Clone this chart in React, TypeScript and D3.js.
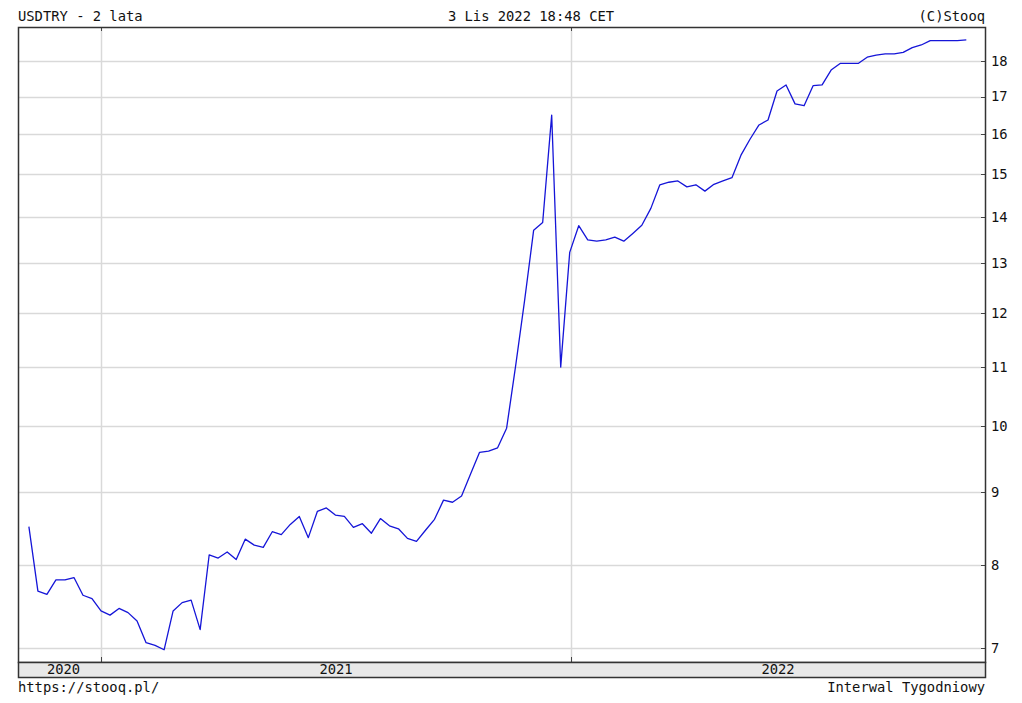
import React from "react";
import * as d3 from "d3";

const TITLE_LEFT = "USDTRY - 2 lata";
const TITLE_CENTER = "3 Lis 2022 18:48 CET";
const TITLE_RIGHT = "(C)Stooq";
const FOOT_LEFT = "https://stooq.pl/";
const FOOT_RIGHT = "Interwal Tygodniowy";

const FIRST_WEEK = "2020-11-06";
const closes: number[] = [
  8.51, 7.67, 7.63, 7.81, 7.81, 7.84, 7.62, 7.58, 7.43, 7.38,
  7.46, 7.41, 7.31, 7.06, 7.03, 6.98, 7.43, 7.53, 7.56, 7.21,
  8.13, 8.09, 8.17, 8.07, 8.34, 8.26, 8.23, 8.44, 8.40, 8.54,
  8.65, 8.36, 8.72, 8.77, 8.67, 8.65, 8.50, 8.55, 8.42, 8.62,
  8.52, 8.48, 8.35, 8.31, 8.46, 8.61, 8.88, 8.85, 8.94, 9.26,
  9.59, 9.61, 9.66, 9.97, 11.02, 12.25, 13.71, 13.88, 16.50, 11.00,
  13.23, 13.81, 13.50, 13.47, 13.50, 13.56, 13.47, 13.64, 13.82, 14.20,
  14.75, 14.81, 14.84, 14.70, 14.75, 14.60, 14.76, 14.84, 14.92, 15.47,
  15.87, 16.24, 16.37, 17.15, 17.32, 16.80, 16.75, 17.30, 17.32, 17.74,
  17.93, 17.93, 17.93, 18.11, 18.17, 18.21, 18.21, 18.25, 18.39, 18.47,
  18.60, 18.60, 18.60, 18.60, 18.62,
];
const yTicks: number[] = [7, 8, 9, 10, 11, 12, 13, 14, 15, 16, 17, 18];
const yearBounds: string[] = ["2021-01-01", "2022-01-01"];
const yearLabels: string[] = ["2020", "2021", "2022"];

const W = 1022;
const H = 703;
const L = 18;
const R = 985;
const T = 27;
const B = 662;
const BAND = 15;
const FONT = "'DejaVu Sans Mono', 'Liberation Mono', monospace";
const FS = 13.8;

export default function App() {
  const start = new Date(FIRST_WEEK + "T00:00:00Z");
  const dates = closes.map((_, i) => d3.utcDay.offset(start, 7 * i));
  const bounds = yearBounds.map((s) => new Date(s + "T00:00:00Z"));

  const x = d3.scaleUtc().domain(bounds).range([101, 571]);
  const y = d3.scaleLog().domain([7, 18]).range([648, 61]);

  const line = d3
    .line<number>()
    .x((_, i) => x(dates[i]))
    .y((d) => y(d));

  const bx = bounds.map((b) => x(b));
  const edges = [L, ...bx, R];
  const labelX = yearLabels.map((_, i) =>
    i === 0 ? (edges[0] + edges[1]) / 2 + 4 : (edges[i] + edges[i + 1]) / 2
  );

  return (
    <svg
      width={W}
      height={H}
      style={{ position: "absolute", left: 0, top: 0, background: "#fff" }}
      fontFamily={FONT}
      fontSize={FS}
    >
      <rect x={0} y={0} width={W} height={H} fill="#fff" />
      {yTicks.map((t) => (
        <line
          key={"g" + t}
          x1={L}
          x2={R - 4}
          y1={Math.round(y(t)) + 0.5}
          y2={Math.round(y(t)) + 0.5}
          stroke="#d9d9d9"
          strokeWidth={1.5}
        />
      ))}
      {bx.map((v, i) => (
        <g key={"v" + i}>
          <line x1={Math.round(v) + 0.5} x2={Math.round(v) + 0.5} y1={T} y2={B} stroke="#d9d9d9" strokeWidth={1.5} />
          <line x1={Math.round(v) + 0.5} x2={Math.round(v) + 0.5} y1={T} y2={T + 4} stroke="#444" strokeWidth={1} />
          <line x1={Math.round(v) + 0.5} x2={Math.round(v) + 0.5} y1={B - 5} y2={B} stroke="#444" strokeWidth={1} />
        </g>
      ))}
      {yTicks.map((t) => (
        <g key={"t" + t}>
          <line x1={R - 4} x2={R} y1={Math.round(y(t)) + 0.5} y2={Math.round(y(t)) + 0.5} stroke="#444" />
          <text x={R + 6} y={y(t)} dy="0.36em" fill="#111">
            {t}
          </text>
        </g>
      ))}
      <path d={line(closes) || ""} fill="none" stroke="#1515d8" strokeWidth={1.3} strokeLinejoin="round" />
      <rect x={L + 0.5} y={T + 0.5} width={R - L} height={B - T} fill="none" stroke="#333" strokeWidth={1.5} />
      <rect x={L + 0.5} y={B + 0.5} width={R - L} height={BAND} fill="#e8e8e8" stroke="#333" strokeWidth={1.5} />
      {yearLabels.map((lab, i) => (
        <text key={lab} x={labelX[i]} y={B + 12} textAnchor="middle" fill="#111">
          {lab}
        </text>
      ))}
      <text x={L} y={21} fill="#111">{TITLE_LEFT}</text>
      <text x={531} y={21} textAnchor="middle" fill="#111">{TITLE_CENTER}</text>
      <text x={R} y={21} textAnchor="end" fill="#111">{TITLE_RIGHT}</text>
      <text x={L} y={692} fill="#111">{FOOT_LEFT}</text>
      <text x={R} y={692} textAnchor="end" fill="#111">{FOOT_RIGHT}</text>
    </svg>
  );
}
